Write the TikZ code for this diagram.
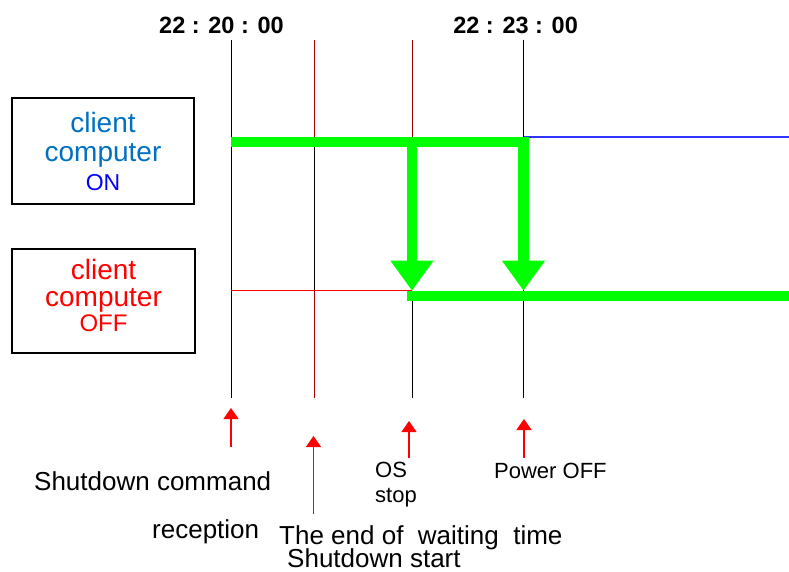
\documentclass[tikz,border=0pt]{standalone}
\usepackage{fontspec}
\setmainfont{Liberation Sans}
\usetikzlibrary{arrows.meta, positioning, calc}
\definecolor{onblue}{RGB}{0,112,192}
\definecolor{onlineblue}{RGB}{51,51,255}
\definecolor{waitred}{RGB}{160,0,0}
\definecolor{switchgreen}{RGB}{0,255,0}
\tikzstyle{statebox} = [draw, line width=1.5pt, inner sep=0pt]
\tikzstyle{statetext} = [inner sep=0pt, align=center]
\tikzstyle{timelabel} = [inner sep=0pt, anchor=base, font=\bfseries\fontsize{23.5}{28}\selectfont]
\tikzstyle{biglabel} = [inner sep=0pt, anchor=base west, font=\fontsize{26}{31}\selectfont]
\tikzstyle{smalllabel} = [inner sep=0pt, anchor=base west, font=\fontsize{22}{26}\selectfont]
\tikzstyle{event} = [red, line width=1.3pt, -{Triangle[width=15pt,length=11pt]}]
\tikzstyle{switch} = [switchgreen, line width=10.7pt, line join=miter, -{Triangle[width=41pt,length=30pt]}]

\begin{document}
\begin{tikzpicture}[x=1pt,y=-1pt]
    \useasboundingbox (0,0) rectangle (789,572);

    % Time points
    \foreach \name/\x in {cmd/231, wait/314, os/412, off/523.5} {
        \coordinate (\name-top) at (\x,40);
        \coordinate (\name-bot) at (\x,398);
    }
    \coordinate (onlevel) at (0,142);
    \coordinate (offlevel) at (0,296);
    \coordinate (onthin) at (0,137);
    \coordinate (offthin) at (0,290.7);
    \coordinate (rightedge) at (789,0);

    % Time labels
    \node[timelabel] (start) at (221.5,34) {22 : 20 : 00};
    \node[timelabel] (finish) at (515.6,34) {22 : 23 : 00};

    % State boxes
    \node[statebox, minimum width=182pt, minimum height=106pt] (onbox) at (103,151) {};
    \node[statetext, text=onblue, font=\fontsize{28}{29}\selectfont] (ontxt) at (onbox.center)
        {client\\computer\\{\color{blue}\fontsize{23}{29}\selectfont ON}};
    \node[statebox, minimum width=183pt, minimum height=104pt] (offbox) at (103.5,301) {};
    \node[statetext, text=red, font=\fontsize{28}{27}\selectfont] (offtxt) at ([yshift=6pt]offbox.center)
        {client\\computer\\[-2pt]{\fontsize{24}{27}\selectfont OFF}};

    % Vertical time lines
    \draw (cmd-top) -- (cmd-bot);
    \draw (off-top) -- (off-bot);
    \draw[waitred] (wait-top) -- (wait-bot);
    \draw (wait-top |- onlevel) -- (wait-top |- offthin);
    \draw[waitred] (os-top) -- (os-top |- onlevel);
    \draw (os-top |- offlevel) -- (os-bot);

    % Thin state lines
    \draw[onlineblue, line width=1.3pt] (off-top |- onthin) -- (rightedge |- onthin);
    \draw[red, line width=1.3pt] (cmd-top |- offthin) -- (os-top |- offthin);

    % Switching from ON to OFF
    \draw[switch] (cmd-top |- onlevel) -- (off-top |- onlevel) -- (off-top |- offthin);
    \draw[switch] (os-top |- onlevel) -- (os-top |- offthin);
    \draw[switchgreen, line width=10.7pt] ($(os-top |- offlevel)+(-5.35,0)$) -- (rightedge |- offlevel);

    % Event arrows
    \foreach \x/\tail/\tip in {231/447/408, 313.5/514/436, 409/458/421, 524/458/419}
        \draw[event] (\x,\tail) -- (\x,\tip);

    % Event labels
    \node[biglabel] (cmdtxt) at (34,490) {Shutdown command};
    \node[biglabel] (cmdtxt2) at (152,538) {reception};
    \node[biglabel] (waittxt) at (279,544) {The end of\ \ waiting\ \ time};
    \node[biglabel] (waittxt2) at (287,567) {Shutdown start};
    \node[smalllabel] (ostxt) at (375,477) {OS};
    \node[smalllabel] (ostxt2) at (375,502) {stop};
    \node[smalllabel] (powertxt) at (494,478) {Power OFF};
\end{tikzpicture}
\end{document}
